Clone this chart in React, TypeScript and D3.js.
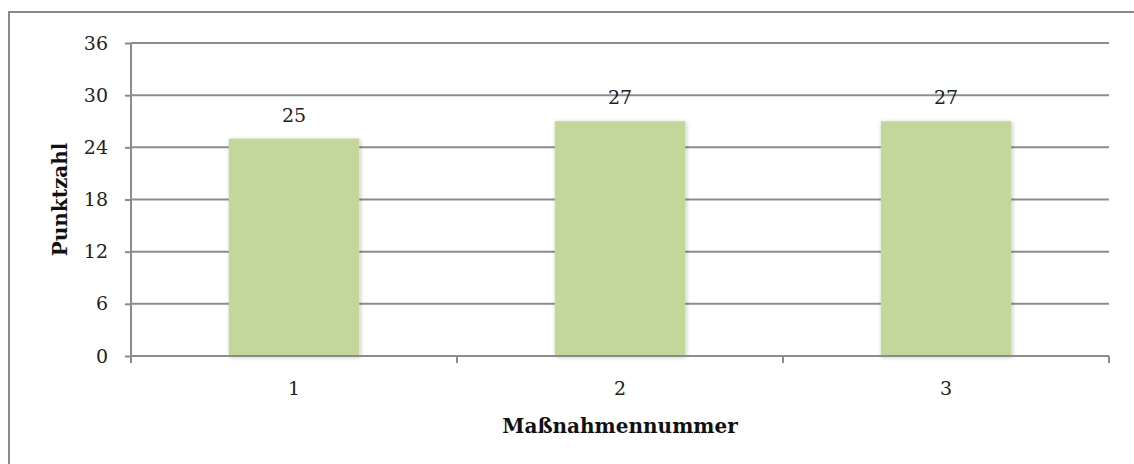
import { useEffect, useRef } from "react";
import { axisBottom, axisLeft, scaleBand, scaleLinear, select } from "d3";

const categories = ["1", "2", "3"];
const values = [25, 27, 27];
const yTicks = [0, 6, 12, 18, 24, 30, 36];

const W = 1134;
const H = 464;
const margin = { left: 131, right: 25, top: 43, bottom: 108 };
const font = "'DejaVu Serif', 'Liberation Serif', serif";

export default function App() {
  const svgRef = useRef<SVGSVGElement>(null);

  useEffect(() => {
    const svg = select(svgRef.current);
    svg.selectAll("*").remove();

    const x = scaleBand()
      .domain(categories)
      .range([margin.left, W - margin.right])
      .paddingInner(0.6)
      .paddingOuter(0.3);
    const y = scaleLinear().domain([0, 36]).range([H - margin.bottom, margin.top]);

    const defs = svg.append("defs");
    const f = defs
      .append("filter")
      .attr("id", "shadow")
      .attr("x", "-10%")
      .attr("y", "-10%")
      .attr("width", "130%")
      .attr("height", "130%");
    f.append("feDropShadow")
      .attr("dx", 1)
      .attr("dy", 1)
      .attr("stdDeviation", 2)
      .attr("flood-color", "#000")
      .attr("flood-opacity", 0.25);

    // outer frame
    svg
      .append("rect")
      .attr("x", 9)
      .attr("y", 12)
      .attr("width", W + 20)
      .attr("height", H + 20)
      .attr("fill", "#fff")
      .attr("stroke", "#8a8a8a")
      .attr("stroke-width", 2);

    // gridlines
    svg
      .append("g")
      .selectAll("line")
      .data(yTicks.filter((t) => t > 0))
      .join("line")
      .attr("x1", margin.left)
      .attr("x2", W - margin.right)
      .attr("y1", (d) => y(d))
      .attr("y2", (d) => y(d))
      .attr("stroke", "#8c8c8c")
      .attr("stroke-width", 2);

    // bars
    svg
      .append("g")
      .selectAll("rect")
      .data(values)
      .join("rect")
      .attr("x", (_, i) => x(categories[i])!)
      .attr("width", x.bandwidth())
      .attr("y", (d) => y(d))
      .attr("height", (d) => y(0) - y(d))
      .attr("fill", "#c4d79b")
      .attr("filter", "url(#shadow)");

    // value labels
    svg
      .append("g")
      .selectAll("text")
      .data(values)
      .join("text")
      .attr("x", (_, i) => x(categories[i])! + x.bandwidth() / 2)
      .attr("y", (d) => y(d) - 17)
      .attr("text-anchor", "middle")
      .attr("font-family", font)
      .attr("font-size", 19)
      .attr("fill", "#222")
      .text((d) => d);

    // y axis
    const yAxis = axisLeft(y).tickValues(yTicks).tickSize(6).tickPadding(17);
    const gy = svg
      .append("g")
      .attr("transform", `translate(${margin.left},0)`)
      //@ts-ignore
      .call(yAxis);
    gy.select(".domain").attr("stroke", "#8c8c8c").attr("stroke-width", 2).attr("d", `M0,${y(36)}V${y(0)}`);
    gy.selectAll(".tick line").attr("stroke", "#8c8c8c").attr("stroke-width", 2);
    gy.selectAll(".tick text")
      .attr("font-family", font)
      .attr("font-size", 19)
      .attr("fill", "#222");

    // x axis
    const xAxis = axisBottom(x).tickSize(0).tickPadding(26);
    const gx = svg
      .append("g")
      .attr("transform", `translate(0,${y(0)})`)
      //@ts-ignore
      .call(xAxis);
    gx.select(".domain").attr("stroke", "#8c8c8c").attr("stroke-width", 2).attr("d", `M${margin.left},0H${W - margin.right}`);
    gx.selectAll(".tick text")
      .attr("font-family", font)
      .attr("font-size", 19)
      .attr("fill", "#222");
    // category boundary ticks
    const bounds = [0, 1, 2, 3].map((i) => margin.left + i * ((W - margin.right - margin.left) / 3));
    gx.append("g")
      .selectAll("line")
      .data(bounds)
      .join("line")
      .attr("x1", (d) => d)
      .attr("x2", (d) => d)
      .attr("y1", 0)
      .attr("y2", 7)
      .attr("stroke", "#8c8c8c")
      .attr("stroke-width", 2);

    // axis titles
    svg
      .append("text")
      .attr("x", 620)
      .attr("y", 433)
      .attr("text-anchor", "middle")
      .attr("font-family", font)
      .attr("font-weight", "bold")
      .attr("font-size", 20)
      .attr("fill", "#111")
      .text("Maßnahmennummer");

    svg
      .append("text")
      .attr("transform", `translate(67,${(y(0) + y(36)) / 2}) rotate(-90)`)
      .attr("text-anchor", "middle")
      .attr("font-family", font)
      .attr("font-weight", "bold")
      .attr("font-size", 20)
      .attr("fill", "#111")
      .text("Punktzahl");
  }, []);

  return (
    <svg
      ref={svgRef}
      width={W}
      height={H}
      style={{ position: "absolute", left: 0, top: 0, background: "#fff" }}
    />
  );
}
